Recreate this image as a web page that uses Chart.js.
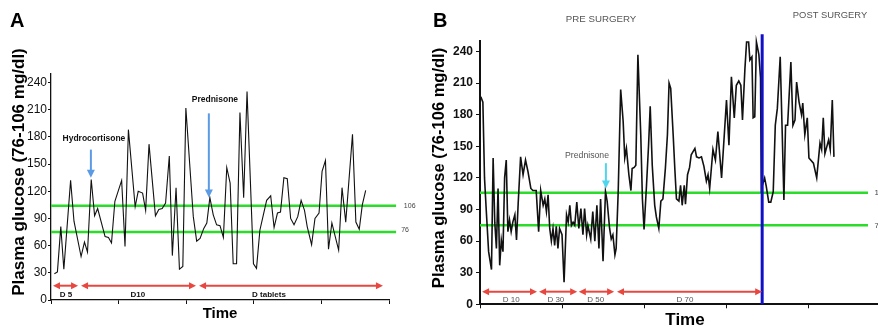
<!DOCTYPE html>
<html lang="en">
<head>
<meta charset="UTF-8">
<title>Plasma glucose - panels A and B</title>
<script src="https://cdn.jsdelivr.net/npm/chart.js"></script>
<style>
    body { margin: 0; background: #fff; }
    .panel { position: absolute; top: 0; }
    #panelA { left: 0; }
    #panelB { left: 430px; }
</style>
</head>
<body>
<canvas id="panelA" class="panel" width="430" height="327"></canvas>
<canvas id="panelB" class="panel" width="448" height="327"></canvas>
<script>
// ---- data ----
// panel A: time (axis units 0-100) and plasma glucose (mg/dl)
const timeA = [1.0, 1.9, 2.9, 3.8, 5.8, 6.8, 8.9, 9.9, 10.8, 11.9, 12.9, 13.8, 16.0, 17.0, 17.9, 18.9, 20.9, 21.9, 22.9, 24.9,
    25.8, 27.1, 28.0, 29.0, 30.9, 31.9, 32.9, 33.9, 35.0, 35.9, 37.0, 38.0, 39.0, 39.9, 42.1, 43.1, 44.1, 45.2, 46.1, 47.0,
    48.0, 49.0, 50.0, 51.0, 52.0, 53.0, 53.9, 54.9, 55.9, 57.0, 58.0, 59.9, 60.8, 61.8, 63.8, 65.0, 66.0, 67.0, 67.9, 68.9,
    69.9, 70.9, 71.9, 73.0, 74.0, 75.0, 75.8, 77.1, 78.1, 79.3, 80.2, 81.2, 82.1, 83.1, 84.1, 85.1, 86.1, 87.2, 89.2, 90.2,
    91.2, 92.1, 93.1];
const glucoseA = [29, 31, 81, 34, 132, 87, 48, 64, 53, 133, 93, 101, 70, 69, 63, 109, 132, 59, 188, 103,
    120, 118, 99, 172, 93, 100, 101, 107, 159, 49, 124, 34, 37, 212, 92, 65, 68, 79, 85, 113,
    94, 83, 82, 69, 146, 129, 40, 40, 207, 113, 230, 40, 35, 77, 110, 115, 80, 96, 97, 135,
    134, 90, 83, 92, 110, 99, 81, 61, 90, 96, 142, 154, 56, 85, 70, 55, 124, 86, 183, 86,
    78, 105, 121];

// panel B: time (axis units, 20 per tick) and plasma glucose (mg/dl)
const timeB = [0.2, 0.7, 1.1, 1.5, 2.1, 2.8, 3.2, 3.6, 4.0, 4.4, 4.8, 5.2, 5.6, 6.0, 6.4, 6.8, 7.2, 7.6, 8.0, 8.5,
    8.9, 9.3, 9.9, 10.5, 11.1, 11.7, 12.4, 12.9, 13.7, 14.3, 14.8, 15.4, 15.8, 16.2, 16.6, 17.0, 17.4, 17.8, 18.2, 18.6,
    19.0, 19.4, 20.0, 20.5, 21.1, 21.5, 21.9, 22.3, 22.7, 23.1, 23.6, 24.1, 24.6, 25.1, 25.5, 26.0, 26.3, 27.0, 27.5, 28.0,
    28.5, 29.0, 29.4, 30.0, 30.6, 31.0, 31.6, 32.0, 32.4, 32.9, 33.2, 33.7, 34.3, 34.9, 35.3, 35.7, 36.3, 36.8, 37.1, 37.6,
    38.0, 38.5, 39.2, 39.6, 40.0, 40.6, 41.1, 41.5, 42.0, 42.6, 43.0, 43.6, 44.1, 44.6, 45.2, 45.7, 46.1, 46.5, 47.1, 47.5,
    47.9, 48.5, 48.9, 49.3, 49.8, 50.1, 50.6, 51.1, 51.5, 52.4, 52.8, 53.4, 54.0, 54.6, 55.2, 55.6, 56.0, 56.8, 57.4, 58.0,
    58.9, 60.1, 60.7, 61.3, 62.0, 62.5, 63.1, 63.6, 64.0, 64.6, 65.0, 65.5, 65.8, 66.3, 66.6, 67.0, 67.4, 68.0, 68.4, 68.6,
    69.4, 69.8, 70.4, 70.9, 71.5, 72.0, 72.5, 73.2, 73.7, 74.1, 74.5, 75.0, 75.8, 76.3, 76.8, 77.2, 77.8, 78.4, 78.7, 79.2,
    79.8, 80.2, 81.3, 82.1, 82.9, 83.3, 83.7, 84.1, 85.0, 85.4, 85.9, 86.3];
const glucoseB = [197, 192, 120, 91, 50, 33, 139, 78, 53, 110, 37, 61, 50, 120, 137, 69, 80, 69, 78, 85,
    61, 95, 140, 123, 137, 126, 110, 108, 108, 69, 108, 94, 100, 88, 104, 72, 60, 72, 56, 74,
    53, 72, 66, 21, 85, 78, 94, 75, 78, 75, 97, 72, 91, 66, 91, 66, 75, 62, 88, 60,
    94, 53, 100, 41, 107, 98, 72, 62, 66, 47, 53, 107, 204, 174, 139, 148, 123, 108, 129, 130,
    132, 237, 161, 100, 71, 113, 151, 188, 132, 94, 83, 72, 98, 100, 129, 161, 210, 205, 161, 129,
    100, 98, 113, 94, 113, 95, 123, 130, 142, 148, 140, 139, 140, 131, 117, 123, 110, 147, 137, 164,
    120, 194, 151, 216, 177, 208, 212, 208, 175, 224, 249, 249, 232, 235, 177, 178, 249, 237, 215, 110,
    120, 112, 97, 97, 107, 170, 186, 235, 161, 99, 170, 170, 230, 170, 175, 211, 192, 180, 191, 161,
    177, 139, 134, 120, 153, 147, 177, 143, 156, 147, 194, 140];

const yTicks = [0, 30, 60, 90, 120, 150, 180, 210, 240];
const xTicks = [0, 20, 40, 60, 80, 100];
const rangeLinesA = [104, 75];      // drawn slightly under the 106 / 76 labels in panel A
const rangeLinesB = [106, 75];
const rangeLabels = ['106', '76'];
const surgeryTime = 68.8;

const phasesA = ['D 5', 'D10', 'D tablets'];
const phaseStartA = [0.6, 8.9, 43.8];
const phaseEndA = [8.0, 42.9, 98.2];
const phasesB = ['D 10', 'D 30', 'D 50', 'D 70'];
const phaseStartB = [0.5, 14.4, 24.1, 33.4];
const phaseEndB = [13.9, 23.7, 32.7, 68.8];

const FONT = 'Arial, "Liberation Sans", sans-serif';
const RED = '#e8473f';
const GREEN = '#2bdc2b';

function points(xs, ys) {
    return xs.map((x, i) => ({ x: x, y: ys[i] }));
}

function arrowHead(ctx, x, y, angle, len, half) {
    const c = Math.cos(angle), s = Math.sin(angle);
    ctx.beginPath();
    ctx.moveTo(x, y);
    ctx.lineTo(x - len * c + half * s, y - len * s - half * c);
    ctx.lineTo(x - len * c - half * s, y - len * s + half * c);
    ctx.closePath();
    ctx.fill();
}

function doubleArrow(ctx, x1, x2, y) {
    ctx.strokeStyle = RED;
    ctx.fillStyle = RED;
    ctx.lineWidth = 2;
    ctx.beginPath();
    ctx.moveTo(x1 + 5, y);
    ctx.lineTo(x2 - 5, y);
    ctx.stroke();
    arrowHead(ctx, x1, y, Math.PI, 7, 3.5);
    arrowHead(ctx, x2, y, 0, 7, 3.5);
}

function downArrow(ctx, x, y1, y2, color) {
    ctx.strokeStyle = color;
    ctx.fillStyle = color;
    ctx.lineWidth = 2;
    ctx.beginPath();
    ctx.moveTo(x, y1);
    ctx.lineTo(x, y2 - 6);
    ctx.stroke();
    arrowHead(ctx, x, y2, Math.PI / 2, 8, 4);
}

function text(ctx, str, x, y, font, color, align) {
    ctx.font = font;
    ctx.fillStyle = color;
    ctx.textAlign = align || 'center';
    ctx.textBaseline = 'alphabetic';
    ctx.fillText(str, x, y);
}

function yTitle(ctx, x, y, size) {
    ctx.save();
    ctx.translate(x, y);
    ctx.rotate(-Math.PI / 2);
    ctx.font = 'bold ' + size + 'px ' + FONT;
    ctx.fillStyle = '#000';
    ctx.textAlign = 'center';
    ctx.textBaseline = 'middle';
    ctx.fillText('Plasma glucose (76-106 mg/dl)', 0, 0);
    ctx.restore();
}

const annotateA = {
    id: 'annotateA',
    afterDatasetsDraw(chart) {
        const { ctx, scales: { x, y } } = chart;
        ctx.save();
        text(ctx, 'A', 10, 27, 'bold 20px ' + FONT, '#000', 'left');
        yTitle(ctx, 19, 172, 17);
        text(ctx, 'Time', 220, 318, 'bold 15px ' + FONT, '#000');

        downArrow(ctx, x.getPixelForValue(11.8), y.getPixelForValue(166), y.getPixelForValue(135), '#5b9be6');
        downArrow(ctx, x.getPixelForValue(46.7), y.getPixelForValue(206), y.getPixelForValue(113), '#5b9be6');
        text(ctx, 'Hydrocortisone', x.getPixelForValue(12.7), y.getPixelForValue(176), 'bold 8.5px ' + FONT, '#111');
        text(ctx, 'Prednisone', x.getPixelForValue(48.5), y.getPixelForValue(219), 'bold 8.5px ' + FONT, '#111');

        for (let i = 0; i < phasesA.length; i++) {
            const x1 = x.getPixelForValue(phaseStartA[i]);
            const x2 = x.getPixelForValue(phaseEndA[i]);
            doubleArrow(ctx, x1, x2, y.getPixelForValue(15.8));
            text(ctx, phasesA[i], x.getPixelForValue([4.4, 25.7, 64.5][i]), y.getPixelForValue(3), 'bold 8px ' + FONT, '#111');
        }
        ctx.textBaseline = 'middle';
        ctx.font = '7px ' + FONT;
        ctx.fillStyle = '#444';
        ctx.textAlign = 'left';
        ctx.fillText(rangeLabels[0], x.getPixelForValue(104.4), y.getPixelForValue(rangeLinesA[0]));
        ctx.fillText(rangeLabels[1], x.getPixelForValue(103.6), y.getPixelForValue(rangeLinesA[1]) - 2);
        ctx.restore();
    }
};

const annotateB = {
    id: 'annotateB',
    afterDatasetsDraw(chart) {
        const { ctx, scales: { x, y } } = chart;
        ctx.save();
        text(ctx, 'B', 3, 27, 'bold 20px ' + FONT, '#000', 'left');
        yTitle(ctx, 9, 168, 16.5);
        text(ctx, 'Time', 255, 325, 'bold 17px ' + FONT, '#000');
        text(ctx, 'PRE SURGERY', 171, 22, '9.7px ' + FONT, '#555');
        text(ctx, 'POST SURGERY', 400, 18, '9.4px ' + FONT, '#555');

        downArrow(ctx, x.getPixelForValue(30.7), y.getPixelForValue(134), y.getPixelForValue(110), '#4fd6ef');
        text(ctx, 'Prednisone', x.getPixelForValue(26.1), y.getPixelForValue(139), '8.7px ' + FONT, '#555');

        for (let i = 0; i < phasesB.length; i++) {
            const x1 = x.getPixelForValue(phaseStartB[i]);
            const x2 = x.getPixelForValue(phaseEndB[i]);
            doubleArrow(ctx, x1, x2, y.getPixelForValue(12));
            text(ctx, phasesB[i], x.getPixelForValue([7.6, 18.5, 28.2, 50][i]), y.getPixelForValue(2.3), '8px ' + FONT, '#555');
        }
        ctx.textBaseline = 'middle';
        ctx.font = '8px ' + FONT;
        ctx.fillStyle = '#444';
        ctx.textAlign = 'left';
        ctx.fillText(rangeLabels[0], x.getPixelForValue(96.2), y.getPixelForValue(rangeLinesB[0]));
        ctx.fillText(rangeLabels[1], x.getPixelForValue(96.2), y.getPixelForValue(rangeLinesB[1]));
        ctx.restore();
    }
};

function makeChart(id, cfg) {
    const ctx = document.getElementById(id).getContext('2d');
    const rangeSets = cfg.ranges.map(v => ({
        data: [{ x: 0, y: v }, { x: cfg.rangeEnd, y: v }],
        borderColor: GREEN,
        borderWidth: 2.5,
        pointRadius: 0,
        clip: false,
        order: 2
    }));
    const datasets = [{
        data: points(cfg.times, cfg.values),
        borderColor: '#111',
        borderWidth: cfg.lineWidth,
        pointRadius: 0,
        tension: 0,
        clip: false,
        order: 1
    }].concat(rangeSets).concat(cfg.extra || []);

    return new Chart(ctx, {
        type: 'line',
        data: { datasets: datasets },
        options: {
            responsive: false,
            animation: false,
            layout: { padding: cfg.padding },
            plugins: { legend: { display: false }, tooltip: { enabled: false } },
            scales: {
                x: {
                    type: 'linear',
                    min: 0,
                    max: cfg.xMax,
                    afterBuildTicks: s => { s.ticks = xTicks.filter(v => v <= cfg.xMax).map(v => ({ value: v })); },
                    afterFit: s => { s.height = cfg.xHeight; },
                    ticks: { display: false },
                    grid: { drawOnChartArea: false, drawTicks: true, tickLength: 4, color: '#111' },
                    border: { color: '#111', width: cfg.axisWidth }
                },
                y: {
                    min: 0,
                    max: 250,
                    afterBuildTicks: s => { s.ticks = yTicks.map(v => ({ value: v })); },
                    afterFit: s => { s.width = cfg.yWidth; },
                    ticks: { font: cfg.tickFont, color: '#111', padding: cfg.tickPad },
                    grid: { drawOnChartArea: false, drawTicks: true, tickLength: cfg.tickLen, color: '#111' },
                    border: { color: '#111', width: cfg.axisWidth }
                }
            }
        },
        plugins: [cfg.plugin]
    });
}

makeChart('panelA', {
    times: timeA, values: glucoseA, lineWidth: 1.1,
    ranges: rangeLinesA, rangeEnd: 102.1, xMax: 100,
    padding: { left: 0, right: 41, top: 73.5, bottom: 0 },
    xHeight: 27, yWidth: 51, axisWidth: 1.3,
    tickFont: { family: FONT, size: 12 }, tickPad: 1, tickLen: 3,
    plugin: annotateA
});

makeChart('panelB', {
    times: timeB, values: glucoseB, lineWidth: 1.6,
    ranges: rangeLinesB, rangeEnd: 94.6, xMax: 96.8,
    padding: { left: 0, right: 1, top: 41, bottom: 0 },
    xHeight: 22.7, yWidth: 50, axisWidth: 2,
    tickFont: { family: FONT, size: 12, weight: 'bold' }, tickPad: 3, tickLen: 4,
    plugin: annotateB,
    extra: [{
        data: [{ x: surgeryTime, y: 0 }, { x: surgeryTime, y: 256.5 }],
        borderColor: '#1010c8',
        borderWidth: 3,
        pointRadius: 0,
        clip: false,
        order: 0
    }]
});
</script>
</body>
</html>
